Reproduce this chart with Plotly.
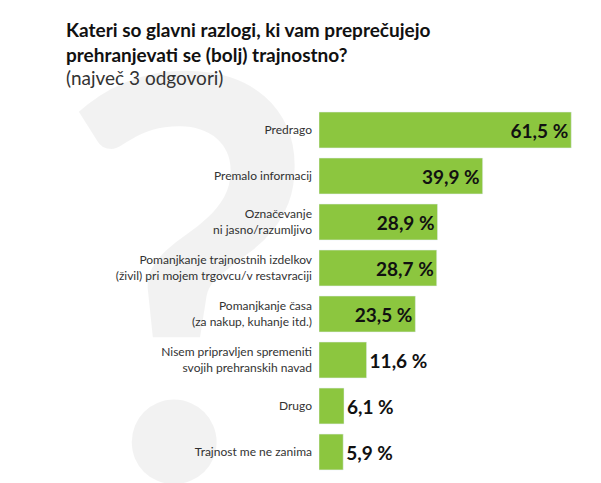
import plotly.graph_objects as go

categories = [
    "Predrago",
    "Premalo informacij",
    "Označevanje<br>ni jasno/razumljivo",
    "Pomanjkanje trajnostnih izdelkov<br>(živil) pri mojem trgovcu/v restavraciji",
    "Pomanjkanje časa<br>(za nakup, kuhanje itd.)",
    "Nisem pripravljen spremeniti<br>svojih prehranskih navad",
    "Drugo",
    "Trajnost me ne zanima",
]
values = [61.5, 39.9, 28.9, 28.7, 23.5, 11.6, 6.1, 5.9]
labels = ["<b>61,5 %</b>", "<b>39,9 %</b>", "<b>28,9 %</b>", "<b>28,7 %</b>",
          "<b>23,5 %</b>", "<b>11,6 %</b>", "<b>6,1 %</b>", "<b>5,9 %</b>"]
positions = ["inside"] * 5 + ["outside"] * 3

# plot area in pixels: x 311..601, y 99..467
def px(x):
    return (x - 311) / 290

def py(y):
    return (467 - y) / 368

fig = go.Figure(go.Bar(
    x=values,
    y=categories,
    orientation="h",
    text=labels,
    textposition=positions,
    insidetextanchor="end",
    textfont=dict(family="Lato", size=19, color="#111111"),
    cliponaxis=False,
    marker=dict(color="#8cc63f"),
))

fig.update_layout(
    width=601, height=483,
    margin=dict(l=311, r=0, t=99, b=16),
    paper_bgcolor="white", plot_bgcolor="rgba(0,0,0,0)",
    bargap=0.22,
    showlegend=False,
    font=dict(family="Lato"),
    xaxis=dict(range=[0, 70.7], visible=False, fixedrange=True),
    yaxis=dict(autorange="reversed", showgrid=False, ticks="",
               ticklabelstandoff=6,
               tickfont=dict(size=12, color="#333333")),
    annotations=[
        dict(text="<b>?</b>", x=px(180), y=py(255), xref="paper", yref="paper", showarrow=False,
             font=dict(family="Lato", size=560, color="rgba(0,0,0,0.05)"),
             xanchor="center", yanchor="middle"),
        dict(text="<b>Kateri so glavni razlogi, ki vam preprečujejo<br>prehranjevati se (bolj) trajnostno?</b>",
             x=px(56), y=py(8), xref="paper", yref="paper", showarrow=False,
             xanchor="left", yanchor="top", align="left",
             font=dict(size=19, color="#111111")),
        dict(text="(največ 3 odgovori)",
             x=px(56), y=py(56), xref="paper", yref="paper", showarrow=False,
             xanchor="left", yanchor="top", align="left",
             font=dict(size=19, color="#333333")),
    ],
)

fig.write_html("out.html")
